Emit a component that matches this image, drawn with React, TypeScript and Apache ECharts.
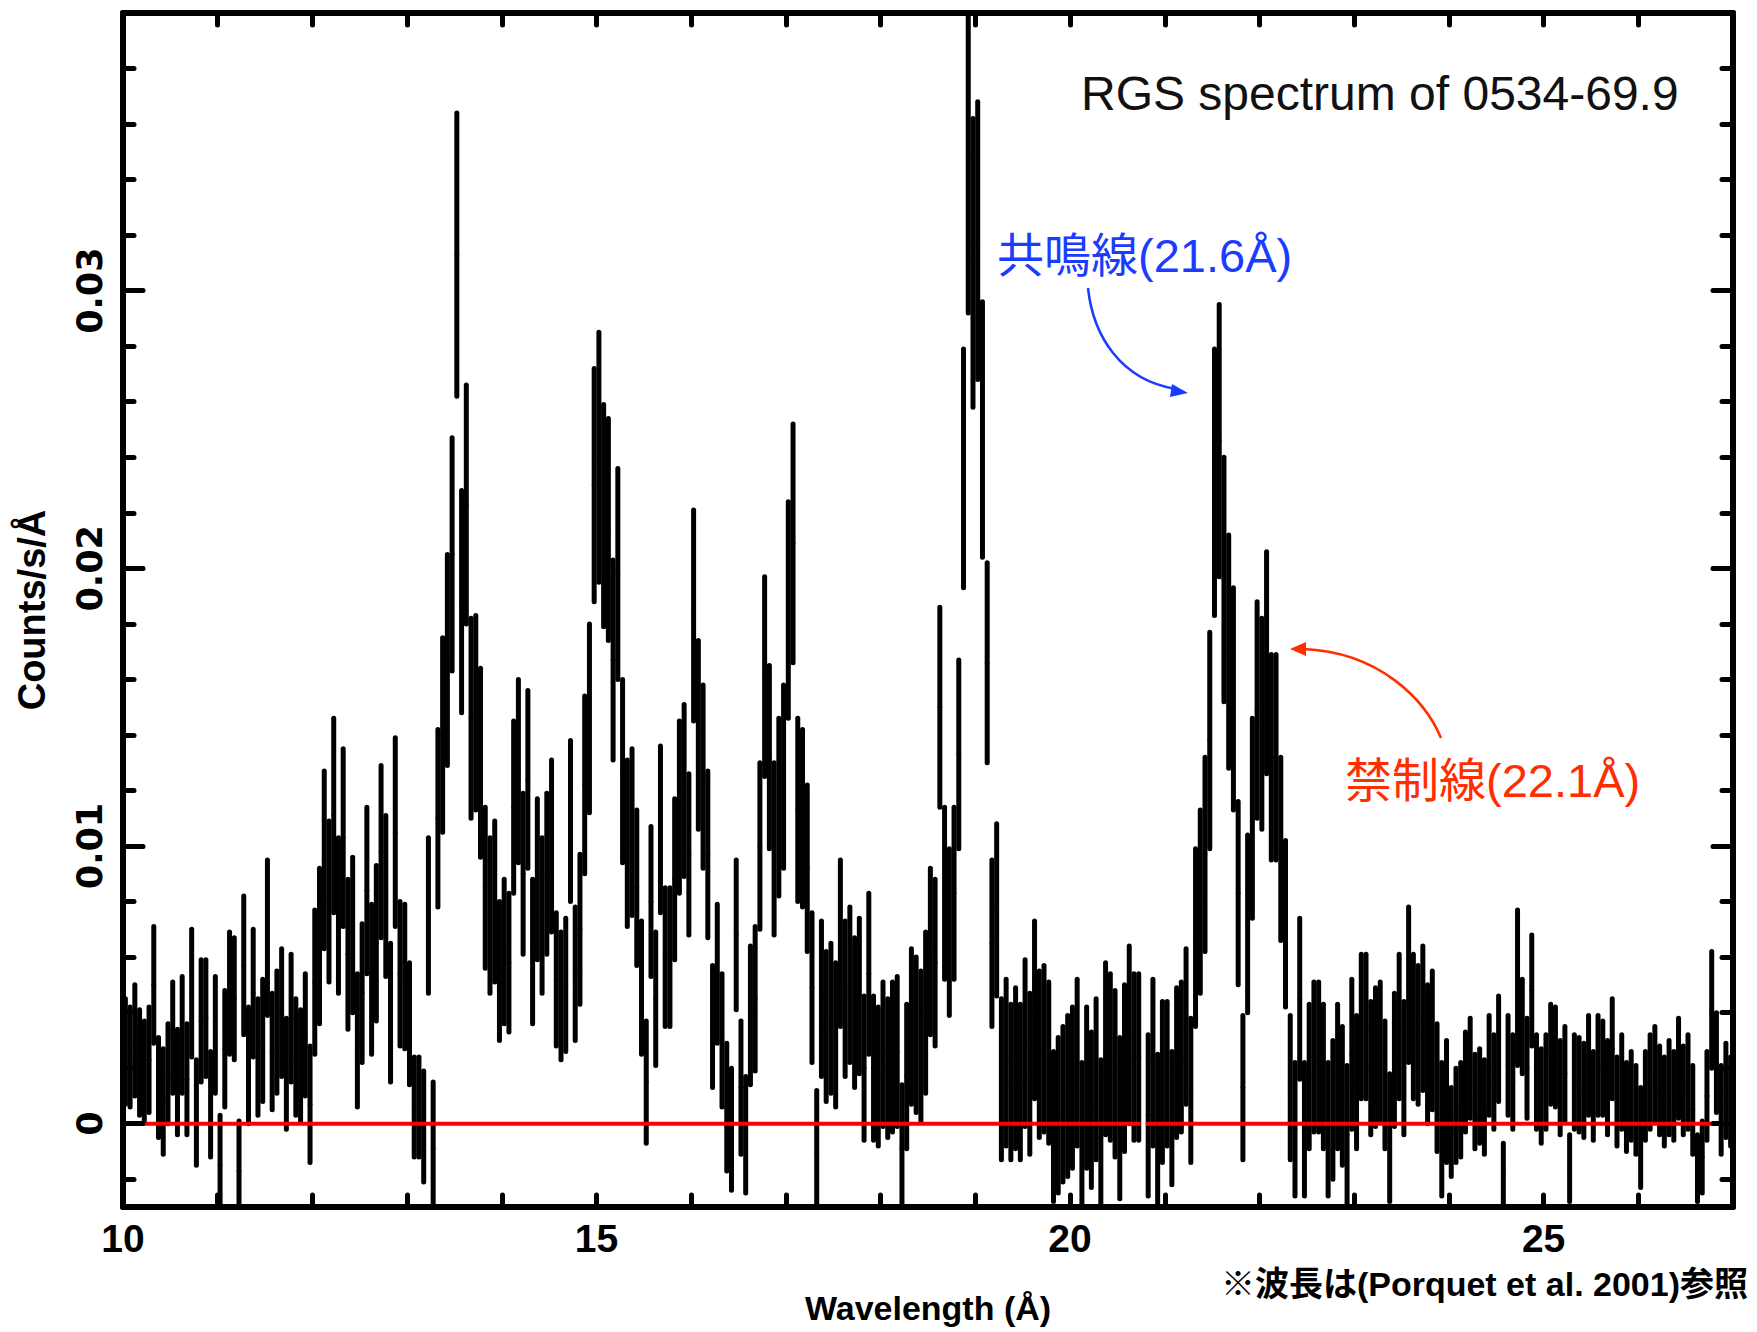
import React, { useEffect, useRef } from "react";
import * as echarts from "echarts";

// RGS spectrum binning (Å)
const BIN_START = 10.0;
const BIN_WIDTH = 0.05;

// Flux per bin, in 10^-3 counts/s/Å. One row per Ångström (20 bins each).
const flux10 = [2.6, 2.4, 3.0, 2.2, 1.9, 2.3, 5.0, 1.3, 0.8, 1.8, 3.1, 1.5, 3.2, 1.6, 4.7, 0.4, 3.7, 3.8, 0.7, 3.2];
const flux11 = [-1.5, 2.7, 4.7, 4.5, -1.7, 5.7, 2.1, 4.7, 2.4, 3.0, 6.7, 2.6, 3.3, 4.0, 1.8, 3.8, 2.4, 2.1, 3.2, 0.7];
const flux12 = [5.1, 6.4, 9.5, 8.0, 11.1, 7.5, 10.3, 6.1, 6.8, 3.0, 4.7, 8.4, 5.2, 6.5, 9.8, 8.2, 4.0, 10.5, 5.4, 5.3];
const flux13 = [3.6, 0.6, 0.6, -0.1, 7.5, -0.9, 11.0, 14.0, 16.7, 20.5, 31.3, 18.8, 22.3, 14.6, 14.8, 13.0, 8.5, 7.5, 8.0, 5.5];
const flux14 = [6.2, 5.8, 11.4, 12.7, 9.0, 12.4, 6.2, 8.8, 7.5, 9.0, 10.0, 5.2, 4.6, 5.0, 10.9, 5.4, 7.0, 12.2, 14.6, 23.0];
const flux15 = [24.0, 21.9, 21.4, 16.7, 19.8, 12.7, 10.1, 10.5, 8.5, 4.9, 1.5, 8.0, 4.5, 10.6, 6.0, 6.0, 8.8, 11.4, 12.0, 9.7];
const flux16 = [18.3, 14.0, 12.5, 9.7, 3.5, 5.4, 3.0, 0.6, -0.2, 6.8, 1.3, -0.4, 3.9, 4.5, 10.0, 16.1, 13.2, 9.9, 11.4, 12.5];
const flux17 = [18.5, 20.9, 11.3, 11.0, 9.2, 4.9, -1.1, 4.5, 3.5, 3.8, 3.2, 6.5, 4.5, 5.0, 4.0, 4.6, 2.0, 5.4, 2.0, 1.7];
const flux18 = [2.5, 2.0, 2.4, 2.6, -0.9, 1.7, 3.5, 3.2, 2.8, 4.0, 6.2, 5.8, 15.0, 8.3, 6.9, 8.3, 13.3, 23.6, 34.8, 31.0];
const flux19 = [31.8, 25.0, 16.6, 6.5, 7.7, 1.6, 2.2, 1.5, 2.0, 1.5, 2.9, 1.8, 4.1, 2.5, 2.7, 2.2, -0.1, 0.3, 0.7, 1.0];
const flux20 = [1.3, 2.2, -0.6, 1.3, 0.5, 1.6, -0.5, 2.7, 2.4, 1.8, 0.2, 2.0, 3.2, 2.4, 2.4, null, 0.3, 2.2, -0.3, 1.5];
const flux21 = [1.8, 0.2, 2.2, 2.4, 3.5, 1.2, 6.7, 8.0, 9.7, 13.8, 23.1, 24.6, 19.6, 17.0, 15.3, 8.3, 1.3, 7.2, 11.0, 14.9];
const flux22 = [14.4, 16.6, 13.2, 13.2, 9.9, 7.2, 1.3, -0.2, 4.5, -0.2, 1.7, 2.4, 2.4, 1.7, -0.2, 0.5, 1.7, 1.0, -0.4, 2.5];
const flux23 = [1.5, 3.5, 3.5, 2.0, 2.4, 2.6, 1.4, -0.5, 2.3, 3.5, 2.0, 5.0, 3.5, 3.2, 3.8, 2.5, 3.0, 1.3, -0.2, 0.8];
const flux24 = [-0.3, 0.3, 0.5, 1.5, 2.0, 0.8, 1.0, 0.6, 2.1, 1.5, 2.7, -1.8, 2.1, 1.5, 4.9, 3.5, 2.0, 4.8, 1.5, 1.0];
const flux25 = [1.5, 2.5, 2.4, 1.3, 1.8, -1.6, 1.5, 1.4, 1.2, 2.1, 1.0, 2.1, 2.0, 1.3, 2.7, 0.8, 1.5, 0.6, 1.0, 0.5];
const flux26 = [-0.5, 1.0, 1.5, 1.8, 1.2, 0.8, 1.3, 1.0, 2.0, 1.2, 1.5, 0.5, -1.6, -1.2, 1.0, 4.1, 2.2, 0.5, 1.2, 0.8];

// 1-sigma error per bin, same units and layout
const err10 = [1.9, 1.8, 2.0, 1.9, 1.8, 1.9, 2.1, 1.8, 1.9, 1.8, 2.0, 1.9, 2.1, 2.0, 2.3, 1.9, 2.2, 2.1, 1.9, 2.1];
const err11 = [1.8, 2.1, 2.2, 2.2, 1.8, 2.5, 2.1, 2.3, 2.1, 2.2, 2.8, 2.1, 2.2, 2.3, 2.0, 2.3, 2.1, 2.0, 2.2, 2.1];
const err12 = [2.6, 2.8, 3.2, 2.9, 3.5, 2.8, 3.2, 2.7, 2.8, 2.4, 2.5, 3.0, 2.7, 2.8, 3.1, 2.9, 2.5, 3.4, 2.6, 2.6];
const err13 = [2.2, 1.8, 1.8, 2.0, 2.8, 2.4, 3.2, 3.5, 3.8, 4.2, 5.1, 4.0, 4.3, 3.6, 3.5, 3.4, 2.9, 2.8, 2.9, 2.5];
const err14 = [2.6, 2.5, 3.1, 3.3, 2.9, 3.2, 2.6, 2.9, 2.8, 2.9, 3.1, 2.4, 2.3, 2.4, 2.9, 2.4, 2.7, 3.2, 3.4, 4.2];
const err15 = [4.5, 4.0, 4.0, 3.6, 3.8, 3.3, 3.0, 3.0, 2.8, 2.4, 2.2, 2.7, 2.4, 3.0, 2.5, 2.5, 2.9, 3.1, 3.1, 2.9];
const err16 = [3.8, 3.4, 3.3, 3.0, 2.2, 2.5, 2.4, 2.3, 2.2, 2.7, 2.4, 2.1, 2.5, 2.6, 3.0, 3.6, 3.3, 3.1, 3.2, 3.3];
const err17 = [3.9, 4.3, 3.3, 3.2, 3.0, 2.7, 2.3, 2.8, 2.7, 2.7, 2.6, 3.0, 2.8, 2.8, 2.7, 2.8, 2.6, 2.9, 2.6, 2.5];
const err18 = [2.6, 2.5, 2.7, 2.7, 2.3, 2.6, 2.8, 2.8, 2.7, 2.9, 3.0, 3.0, 3.6, 3.1, 3.0, 3.1, 3.4, 4.3, 5.6, 5.2];
const err19 = [5.0, 4.6, 3.6, 3.0, 3.1, 2.9, 3.0, 2.8, 2.9, 2.8, 3.0, 2.9, 3.2, 3.0, 3.0, 2.9, 2.7, 2.8, 2.8, 2.9];
const err20 = [2.9, 3.0, 2.8, 2.9, 2.8, 2.9, 2.8, 3.1, 3.0, 3.0, 2.9, 3.0, 3.2, 3.0, 3.0, null, 2.9, 3.0, 2.8, 2.9];
const err21 = [2.6, 2.4, 2.7, 2.7, 2.8, 2.6, 3.2, 3.3, 3.5, 3.9, 4.8, 4.9, 4.4, 4.2, 4.0, 3.3, 2.6, 3.2, 3.6, 3.9];
const err22 = [3.8, 4.0, 3.7, 3.7, 3.3, 3.0, 2.6, 2.4, 2.9, 2.4, 2.6, 2.7, 2.7, 2.6, 2.4, 2.5, 2.6, 2.5, 2.5, 2.7];
const err23 = [2.4, 2.6, 2.6, 2.4, 2.5, 2.5, 2.3, 2.3, 2.4, 2.6, 2.4, 2.8, 2.6, 2.5, 2.6, 2.5, 2.5, 2.3, 2.4, 2.2];
const err24 = [1.6, 1.7, 1.7, 1.8, 1.8, 1.7, 1.7, 1.7, 1.8, 1.7, 1.9, 1.1, 1.8, 1.7, 2.8, 1.7, 1.8, 2.0, 1.7, 1.7];
const err25 = [1.7, 1.8, 1.8, 1.7, 1.7, 1.2, 1.7, 1.7, 1.7, 1.8, 1.6, 1.8, 1.7, 1.7, 1.8, 1.6, 1.7, 1.6, 1.6, 1.6];
const err26 = [1.8, 1.6, 1.7, 1.7, 1.6, 1.6, 1.7, 1.6, 1.8, 1.6, 1.7, 1.6, 1.2, 1.3, 1.6, 2.1, 1.8, 1.6, 1.7, 1.6];

// Model (zero level) with the detector-gap break
const modelLine: (number | string)[][] = [
  [10, 0],
  [20.745, 0],
  [20.77, "-"],
  [20.8, 0],
  [27, 0],
];

// Axis ticks
const xLabelValues = [10, 15, 20, 25];
const xTickValues = [11, 12, 13, 14, 15, 16, 17, 18, 19, 20, 21, 22, 23, 24, 25, 26];
const yLabelValues = [0, 0.01, 0.02, 0.03];
const yMinorValues = [
  -0.002, 0.002, 0.004, 0.006, 0.008, 0.012, 0.014, 0.016, 0.018, 0.022, 0.024, 0.026, 0.028,
  0.032, 0.034, 0.036, 0.038,
];

const flux = [
  ...flux10, ...flux11, ...flux12, ...flux13, ...flux14, ...flux15, ...flux16, ...flux17, ...flux18,
  ...flux19, ...flux20, ...flux21, ...flux22, ...flux23, ...flux24, ...flux25, ...flux26,
];
const fluxErr = [
  ...err10, ...err11, ...err12, ...err13, ...err14, ...err15, ...err16, ...err17, ...err18,
  ...err19, ...err20, ...err21, ...err22, ...err23, ...err24, ...err25, ...err26,
];

const MILLI = 1e-3;
const LATIN_CJK = "'Liberation Sans', Arial, 'Noto Sans CJK JP', sans-serif";

export default function App() {
  const ref = useRef<HTMLDivElement>(null);

  useEffect(() => {
    document.body.style.margin = "0";
    const chart = echarts.init(ref.current!, null, { renderer: "svg" });

    const spectrum: number[][] = [];
    flux.forEach((v, i) => {
      if (v == null) return;
      const center = BIN_START + BIN_WIDTH * (i + 0.5);
      spectrum.push([center, (v as number) * MILLI, (fluxErr[i] as number) * MILLI]);
    });

    const tickStyle = { color: "#000", width: 5, cap: "round" as const };
    const axisLineStyle = { color: "#000", width: 6, cap: "round" as const };

    const yBase = {
      type: "value" as const,
      min: -0.003,
      max: 0.04,
      splitLine: { show: false },
      z: 10,
    };
    const xBase = {
      type: "value" as const,
      min: 10,
      max: 27,
      splitLine: { show: false },
      z: 10,
    };

    chart.setOption({
      animation: false,
      backgroundColor: "#fff",
      grid: { left: 123, top: 13, width: 1610, height: 1194, containLabel: false },
      xAxis: [
        {
          ...xBase,
          position: "bottom",
          axisLine: { show: true, onZero: false, lineStyle: axisLineStyle },
          axisTick: {
            show: true,
            inside: true,
            length: 12,
            customValues: xTickValues,
            lineStyle: tickStyle,
          },
          axisLabel: {
            show: true,
            customValues: xLabelValues,
            margin: 12,
            color: "#000",
            fontFamily: "'Liberation Sans', Arial, sans-serif",
            fontWeight: "bold",
            fontSize: 39,
          },
          name: "Wavelength (Å)",
          nameLocation: "middle",
          nameGap: 84,
          nameTextStyle: {
            color: "#000",
            fontFamily: "'Liberation Sans', Arial, sans-serif",
            fontWeight: "bold",
            fontSize: 34,
          },
        },
        {
          ...xBase,
          position: "top",
          axisLine: { show: true, onZero: false, lineStyle: axisLineStyle },
          axisTick: {
            show: true,
            inside: true,
            length: 12,
            customValues: xTickValues,
            lineStyle: tickStyle,
          },
          axisLabel: { show: false },
        },
      ],
      yAxis: [
        {
          ...yBase,
          position: "left",
          axisLine: { show: true, onZero: false, lineStyle: axisLineStyle },
          axisTick: {
            show: true,
            inside: true,
            length: 20,
            customValues: yLabelValues,
            lineStyle: tickStyle,
          },
          axisLabel: {
            show: true,
            customValues: yLabelValues,
            rotate: 90,
            margin: 16,
            color: "#000",
            fontFamily: "'DejaVu Sans', sans-serif",
            fontWeight: "bold",
            fontSize: 35,
            formatter: (v: number) => (v === 0 ? "0" : v.toFixed(2)),
          },
          name: "Counts/s/Å",
          nameLocation: "middle",
          nameRotate: 90,
          nameGap: 72,
          nameTextStyle: {
            color: "#000",
            fontFamily: "'Liberation Sans', Arial, sans-serif",
            fontWeight: "bold",
            fontSize: 38,
          },
        },
        {
          ...yBase,
          position: "left",
          axisLine: { show: false, onZero: false },
          axisTick: {
            show: true,
            inside: true,
            length: 11,
            customValues: yMinorValues,
            lineStyle: tickStyle,
          },
          axisLabel: { show: false },
        },
        {
          ...yBase,
          position: "right",
          axisLine: { show: true, onZero: false, lineStyle: axisLineStyle },
          axisTick: {
            show: true,
            inside: true,
            length: 20,
            customValues: yLabelValues,
            lineStyle: tickStyle,
          },
          axisLabel: { show: false },
        },
        {
          ...yBase,
          position: "right",
          axisLine: { show: false, onZero: false },
          axisTick: {
            show: true,
            inside: true,
            length: 11,
            customValues: yMinorValues,
            lineStyle: tickStyle,
          },
          axisLabel: { show: false },
        },
      ],
      series: [
        {
          type: "custom",
          name: "RGS",
          xAxisIndex: 0,
          yAxisIndex: 0,
          clip: true,
          z: 2,
          encode: { x: 0, y: 1 },
          data: spectrum,
          renderItem: (_params: any, api: any) => {
            const x = api.value(0);
            const y = api.value(1);
            const e = api.value(2);
            const top = api.coord([x, y + e]);
            const bot = api.coord([x, y - e]);
            const l = api.coord([x - BIN_WIDTH / 2, y]);
            const r = api.coord([x + BIN_WIDTH / 2, y]);
            return {
              type: "group",
              children: [
                {
                  type: "line",
                  shape: { x1: top[0], y1: top[1], x2: bot[0], y2: bot[1] },
                  style: { stroke: "#000", lineWidth: 5, lineCap: "round" },
                },
                {
                  type: "line",
                  shape: { x1: l[0], y1: l[1], x2: r[0], y2: r[1] },
                  style: { stroke: "#000", lineWidth: 1.5 },
                },
              ],
            };
          },
        },
        {
          type: "line",
          name: "model",
          xAxisIndex: 0,
          yAxisIndex: 0,
          data: modelLine,
          symbol: "none",
          connectNulls: false,
          z: 5,
          lineStyle: { color: "#ff0000", width: 4 },
        },
      ],
      graphic: [
        {
          type: "text",
          x: 1081,
          y: 93,
          z: 20,
          style: {
            text: "RGS spectrum of 0534-69.9",
            fill: "#111",
            fontFamily: "'Liberation Sans', Arial, sans-serif",
            fontSize: 48,
            align: "left",
            verticalAlign: "middle",
          },
        },
        {
          type: "text",
          x: 997,
          y: 255,
          z: 20,
          style: {
            text: "共鳴線(21.6Å)",
            fill: "#1b3cff",
            fontFamily: LATIN_CJK,
            fontSize: 47,
            align: "left",
            verticalAlign: "middle",
          },
        },
        {
          type: "bezierCurve",
          z: 20,
          shape: { x1: 1088, y1: 288, cpx1: 1093, cpy1: 335, cpx2: 1120, cpy2: 380, x2: 1176, y2: 389 },
          style: { stroke: "#1b3cff", lineWidth: 2.5, fill: null },
        },
        {
          type: "polygon",
          z: 20,
          shape: { points: [[1188, 393], [1172, 384], [1170, 397]] },
          style: { fill: "#1b3cff" },
        },
        {
          type: "text",
          x: 1345,
          y: 780,
          z: 20,
          style: {
            text: "禁制線(22.1Å)",
            fill: "#ff2d00",
            fontFamily: LATIN_CJK,
            fontSize: 47,
            align: "left",
            verticalAlign: "middle",
          },
        },
        {
          type: "bezierCurve",
          z: 20,
          shape: { x1: 1441, y1: 738, cpx1: 1425, cpy1: 700, cpx2: 1380, cpy2: 652, x2: 1303, y2: 649 },
          style: { stroke: "#ff2d00", lineWidth: 2.5, fill: null },
        },
        {
          type: "polygon",
          z: 20,
          shape: { points: [[1290, 649], [1306, 642], [1306, 656]] },
          style: { fill: "#ff2d00" },
        },
        {
          type: "text",
          x: 1748,
          y: 1284,
          z: 20,
          style: {
            text: "※波長は(Porquet et al. 2001)参照",
            fill: "#000",
            fontFamily: LATIN_CJK,
            fontWeight: "bold",
            fontSize: 34,
            align: "right",
            verticalAlign: "middle",
          },
        },
      ],
    });

    return () => chart.dispose();
  }, []);

  return <div ref={ref} style={{ width: 1757, height: 1332 }} />;
}
